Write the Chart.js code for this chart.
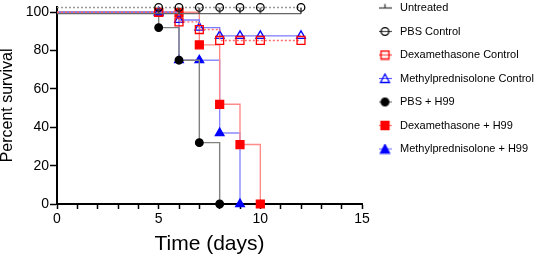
<!DOCTYPE html>
<html>
<head>
<meta charset="utf-8">
<script src="https://cdn.jsdelivr.net/npm/chart.js@4/dist/chart.umd.min.js"></script>
<style>
  html, body { margin: 0; padding: 0; background: #fff; }
</style>
</head>
<body>
<canvas id="myChart" width="536" height="260"></canvas>
<script>
    // survival data (days, percent survival)
    var seriesNames = ['Untreated', 'PBS Control', 'Dexamethasone Control', 'Methylprednisolone Control',
        'PBS + H99', 'Dexamethasone + H99', 'Methylprednisolone + H99'];

    var controlDays = [0, 5, 6, 7, 8, 9, 10, 12];
    var untreated = [99.3, 99.3, 99.3, 99.3, 99.3, 99.3, 99.3, 99.3];
    var pbsControl = [102.5, 102.5, 102.5, 102.5, 102.5, 102.5, 102.5, 102.5];
    var dexControl = [100, 100, 95, 91, 85.3, 85.3, 85.3, 85.3];
    var mpControl = [100, 100, 96, 92, 87.7, 87.7, 87.7, 87.7];

    var pbsH99Days = [0, 5, 6, 7, 8];
    var pbsH99 = [100, 92, 75, 32, 0];
    var dexH99Days = [0, 5, 6, 7, 8, 9, 10];
    var dexH99 = [100, 100, 100, 83, 52, 31, 0];
    var mpH99Days = [0, 5, 6, 7, 8, 9];
    var mpH99 = [100, 100, 75, 75, 37, 0];

    var xLabelEvery = 5;   // labelled ticks 0, 5, 10, 15
    var yStep = 20;        // 0 .. 100

    const fontFamily = '"Liberation Sans", Arial, Helvetica, sans-serif';

    function toPoints(days, vals) {
        return days.map((d, i) => ({ x: d, y: vals[i] }));
    }

    // small canvas used as the "Untreated" censor tick
    function tickMark() {
        const c = document.createElement('canvas');
        c.width = 4; c.height = 14;
        const g = c.getContext('2d');
        g.strokeStyle = '#333';
        g.lineWidth = 1.5;
        g.beginPath(); g.moveTo(2, 1); g.lineTo(2, 7); g.stroke();
        return c;
    }

    // legend icons: short line with the symbol on it
    function legendIcon(lineColor, dash, shape, stroke, fill) {
        const c = document.createElement('canvas');
        c.width = 13; c.height = 11;
        const g = c.getContext('2d');
        g.strokeStyle = lineColor;
        g.lineWidth = 1.2;
        g.setLineDash(dash);
        g.beginPath(); g.moveTo(0, 5.5); g.lineTo(13, 5.5); g.stroke();
        g.setLineDash([]);
        g.strokeStyle = stroke;
        g.fillStyle = fill;
        g.lineWidth = 1.3;
        g.beginPath();
        if (shape === 'tick') {
            g.moveTo(6.5, 5.5); g.lineTo(6.5, 1.5);
            g.stroke();
            return c;
        } else if (shape === 'circle') {
            g.arc(6.5, 5.5, 3.8, 0, Math.PI * 2);
        } else if (shape === 'rect') {
            g.rect(2.5, 1.5, 8, 8);
        } else {
            g.moveTo(6.5, 1); g.lineTo(11, 9.5); g.lineTo(2, 9.5); g.closePath();
        }
        if (fill !== 'transparent') g.fill();
        g.stroke();
        return c;
    }

    const legendIcons = [
        legendIcon('#333', [], 'tick', '#333', 'transparent'),
        legendIcon('#555', [], 'circle', '#000', 'transparent'),
        legendIcon('#ff5050', [], 'rect', '#ff0000', 'transparent'),
        legendIcon('#6060ff', [], 'triangle', '#0000ff', 'transparent'),
        legendIcon('#777', [], 'circle', '#000', '#000'),
        legendIcon('#ff8080', [], 'rect', '#ff0000', '#ff0000'),
        legendIcon('#8080ff', [], 'triangle', '#0000ff', '#0000ff')
    ];

    function radiusFor(r) {
        return (c) => (c.raw && c.raw.x === 0 ? 0 : r);
    }

    function makeSet(i, pts, opts) {
        return Object.assign({
            label: seriesNames[i],
            data: pts,
            stepped: true,
            fill: false,
            clip: false,
            borderWidth: 1.4,
            pointBorderWidth: 1.3,
            pointHoverRadius: 0
        }, opts);
    }

    var datasets = [
        makeSet(0, toPoints(controlDays, untreated), {
            borderColor: '#666', pointStyle: tickMark(), pointRadius: radiusFor(4)
        }),
        makeSet(1, toPoints(controlDays, pbsControl), {
            borderColor: '#999', borderDash: [2, 2], pointStyle: 'circle',
            pointRadius: radiusFor(3.8), pointBorderColor: '#000', pointBackgroundColor: 'rgba(0,0,0,0)'
        }),
        makeSet(2, toPoints(controlDays, dexControl), {
            borderColor: '#ff6a6a', borderDash: [2, 2], pointStyle: 'rect',
            pointRadius: radiusFor(5.6), pointBorderColor: '#ff0000', pointBackgroundColor: 'rgba(0,0,0,0)'
        }),
        makeSet(3, toPoints(controlDays, mpControl), {
            borderColor: '#7b7bff', pointStyle: 'triangle',
            pointRadius: radiusFor(5), pointBorderColor: '#0000ff', pointBackgroundColor: 'rgba(0,0,0,0)'
        }),
        makeSet(4, toPoints(pbsH99Days, pbsH99), {
            borderColor: '#808080', pointStyle: 'circle',
            pointRadius: radiusFor(3.8), pointBorderColor: '#000', pointBackgroundColor: '#000'
        }),
        makeSet(5, toPoints(dexH99Days, dexH99), {
            borderColor: '#ff8a8a', pointStyle: 'rect',
            pointRadius: radiusFor(5.6), pointBorderColor: '#ff0000', pointBackgroundColor: '#ff0000'
        }),
        makeSet(6, toPoints(mpH99Days, mpH99), {
            borderColor: '#8a8aff', pointStyle: 'triangle',
            pointRadius: radiusFor(5), pointBorderColor: '#0000ff', pointBackgroundColor: '#0000ff'
        })
    ];

    // nudge the legend block to where the figure has it
    const legendShift = {
        id: 'legendShift',
        afterLayout(chart) {
            chart.legend.left += 1;
            chart.legend.top -= 10;
        }
    };

    var ctx = document.getElementById('myChart').getContext('2d');
    var survivalChart = new Chart(ctx, {
        type: 'scatter',
        data: { datasets: datasets },
        plugins: [legendShift],
        options: {
            responsive: false,
            animation: false,
            events: [],
            showLine: true,
            layout: { padding: 0 },
            plugins: {
                tooltip: { enabled: false },
                legend: {
                    position: 'right',
                    align: 'start',
                    maxWidth: 174,
                    labels: {
                        usePointStyle: true,
                        pointStyleWidth: 19,
                        padding: 12.5,
                        color: '#000',
                        font: { family: fontFamily, size: 11 },
                        generateLabels(chart) {
                            return chart.data.datasets.map((ds, i) => ({
                                text: ds.label,
                                pointStyle: legendIcons[i],
                                datasetIndex: i,
                                hidden: false,
                                lineWidth: 0,
                                fontColor: '#000'
                            }));
                        }
                    }
                }
            },
            scales: {
                x: {
                    type: 'linear',
                    position: 'bottom',
                    min: 0,
                    max: 15,
                    afterFit: (s) => { s.height = 56; },
                    border: { color: '#000', width: 2 },
                    grid: { drawOnChartArea: false, tickLength: 5, tickColor: '#000', tickWidth: 1.5 },
                    ticks: {
                        stepSize: 1,
                        autoSkip: false,
                        maxRotation: 0,
                        padding: 2,
                        color: '#000',
                        font: { family: fontFamily, size: 14 },
                        callback: (v) => (v % xLabelEvery === 0 ? v : '')
                    },
                    title: {
                        display: true,
                        text: 'Time (days)',
                        color: '#000',
                        font: { family: fontFamily, size: 21 },
                        padding: { top: 0, bottom: 3 }
                    }
                },
                y: {
                    min: 0,
                    max: 102.8,
                    afterFit: (s) => { s.width = 57; s.paddingTop = 0; },
                    border: { color: '#000', width: 2 },
                    grid: { drawOnChartArea: false, tickLength: 7, tickColor: '#000', tickWidth: 1.5 },
                    ticks: {
                        stepSize: yStep,
                        includeBounds: false,
                        padding: 1,
                        color: '#000',
                        font: { family: fontFamily, size: 14 }
                    },
                    title: {
                        display: true,
                        text: 'Percent survival',
                        color: '#000',
                        font: { family: fontFamily, size: 16, lineHeight: 1 },
                        padding: 0
                    }
                }
            }
        }
    });
</script>
</body>
</html>
